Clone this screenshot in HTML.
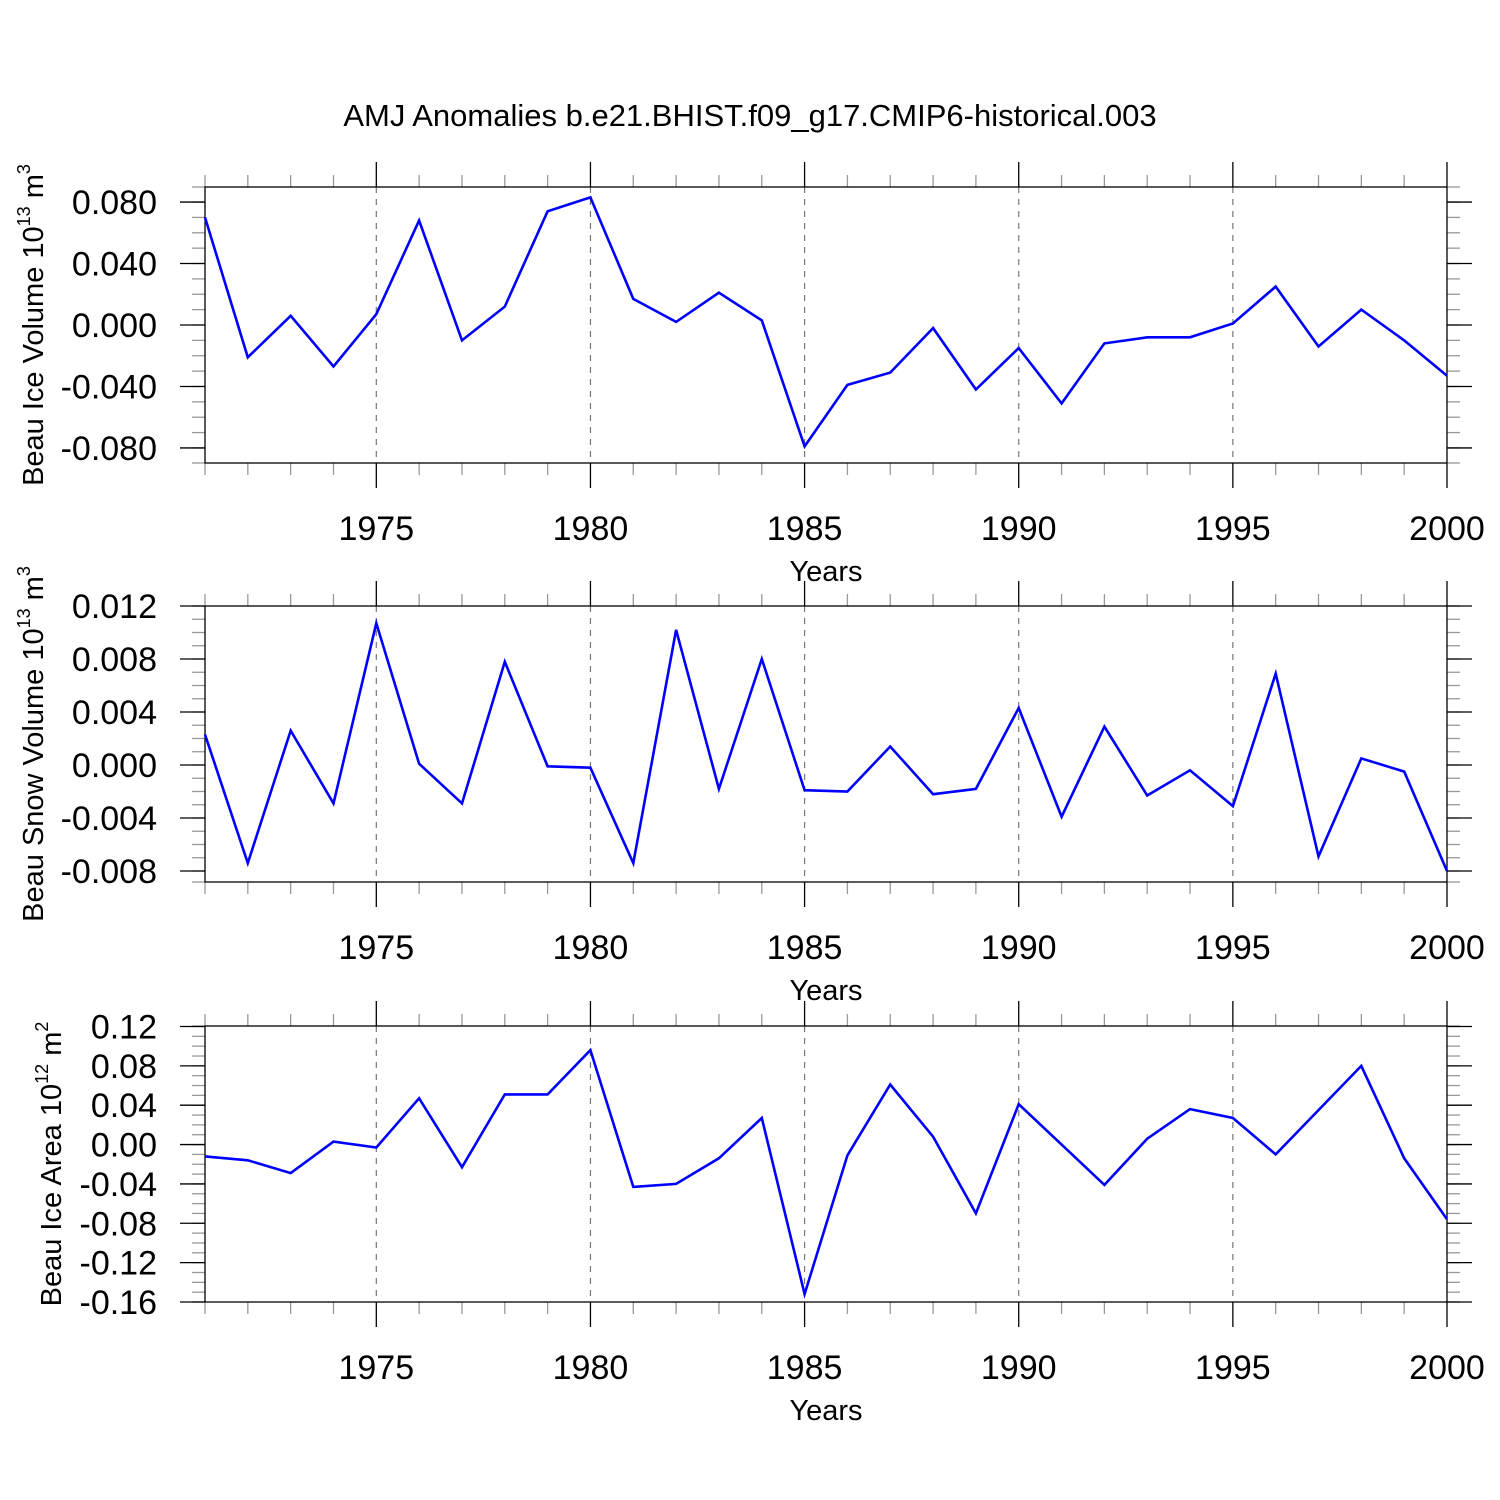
<!DOCTYPE html>
<html><head><meta charset="utf-8"><style>
html,body{margin:0;padding:0;background:#fff;}
svg{display:block;font-family:"Liberation Sans",Arial,sans-serif;}
</style></head><body>
<svg id="chart" width="1500" height="1500" viewBox="0 0 1500 1500" xmlns="http://www.w3.org/2000/svg">
<rect width="1500" height="1500" fill="#fff"/>
<text x="750" y="126" font-size="31" text-anchor="middle">AMJ Anomalies b.e21.BHIST.f09_g17.CMIP6-historical.003</text>
</svg>
<script>
const years = [1971,1972,1973,1974,1975,1976,1977,1978,1979,1980,1981,1982,1983,1984,1985,1986,1987,1988,1989,1990,1991,1992,1993,1994,1995,1996,1997,1998,1999,2000];
const iceVolume = [0.070,-0.021,0.006,-0.027,0.007,0.068,-0.010,0.012,0.074,0.083,0.017,0.002,0.021,0.003,-0.079,-0.039,-0.031,-0.002,-0.042,-0.015,-0.051,-0.012,-0.008,-0.008,0.001,0.025,-0.014,0.010,-0.010,-0.033];
const snowVolume = [0.0023,-0.0074,0.0026,-0.0029,0.0107,0.0001,-0.0029,0.0078,-0.0001,-0.0002,-0.0074,0.0102,-0.0018,0.0080,-0.0019,-0.0020,0.0014,-0.0022,-0.0018,0.0043,-0.0039,0.0029,-0.0023,-0.0004,-0.0031,0.0069,-0.0069,0.0005,-0.0005,-0.0080];
const iceArea = [-0.012,-0.016,-0.029,0.003,-0.003,0.047,-0.023,0.051,0.051,0.096,-0.043,-0.040,-0.014,0.027,-0.152,-0.011,0.061,0.008,-0.070,0.041,0.000,-0.041,0.006,0.036,0.027,-0.010,0.035,0.080,-0.014,-0.076];
const xTickYears = [1975,1980,1985,1990,1995,2000];
const iceVolumeTicks = [0.08,0.04,0,-0.04,-0.08];
const iceVolumeLabels = ["0.080","0.040","0.000","-0.040","-0.080"];
const snowVolumeTicks = [0.012,0.008,0.004,0,-0.004,-0.008];
const snowVolumeLabels = ["0.012","0.008","0.004","0.000","-0.004","-0.008"];
const iceAreaTicks = [0.12,0.08,0.04,0,-0.04,-0.08,-0.12,-0.16];
const iceAreaLabels = ["0.12","0.08","0.04","0.00","-0.04","-0.08","-0.12","-0.16"];

const NS="http://www.w3.org/2000/svg";
const svg=document.getElementById('chart');
const X0=205,X1=1447,Y0=1971,Y1=2000;
function xs(v){return X0+(v-Y0)/(Y1-Y0)*(X1-X0);}
function mk(tag,attrs,parent){const e=document.createElementNS(NS,tag);for(const k in attrs)e.setAttribute(k,attrs[k]);(parent||svg).appendChild(e);return e;}

const panels=[
 {name:'ice-volume',top:187,bot:463,ymin:-0.0898,ymax:0.0898,minor:0.01,data:iceVolume,ticks:iceVolumeTicks,labels:iceVolumeLabels,title:'Beau Ice Volume 10',sup:'13',unit:' m',usup:'3',tx:43},
 {name:'snow-volume',top:606,bot:882,ymin:-0.00883,ymax:0.012,minor:0.001,data:snowVolume,ticks:snowVolumeTicks,labels:snowVolumeLabels,title:'Beau Snow Volume 10',sup:'13',unit:' m',usup:'3',tx:43},
 {name:'ice-area',top:1026,bot:1302,ymin:-0.16,ymax:0.1205,minor:0.01,data:iceArea,ticks:iceAreaTicks,labels:iceAreaLabels,title:'Beau Ice Area 10',sup:'12',unit:' m',usup:'2',tx:61}
];

panels.forEach(p=>{
 const g=mk('g',{});
 
 
 const ys=v=>p.bot-(v-p.ymin)/(p.ymax-p.ymin)*(p.bot-p.top);
 xTickYears.forEach(yr=>{ if(yr<Y1){ const l=mk('line',{x1:xs(yr),x2:xs(yr),y1:p.top,y2:p.bot,stroke:'#777','stroke-width':1.2,'stroke-dasharray':'6,6'},g);   }});
 for(let yr=Y0;yr<=Y1;yr++){
  const major=yr%5===0, len=major?25:12, col=major?'#000':'#999';
  mk('line',{x1:xs(yr),x2:xs(yr),y1:p.top,y2:p.top-len,stroke:col,'stroke-width':1.3},g);
  mk('line',{x1:xs(yr),x2:xs(yr),y1:p.bot,y2:p.bot+len,stroke:col,'stroke-width':1.3},g);
 }
 const start=Math.ceil(p.ymin/p.minor-1e-6);
 for(let i=start;i*p.minor<=p.ymax+1e-9;i++){
  const y=ys(i*p.minor);
  mk('line',{x1:X0,x2:X0-13,y1:y,y2:y,stroke:'#999','stroke-width':1.3},g);
  mk('line',{x1:X1,x2:X1+13,y1:y,y2:y,stroke:'#999','stroke-width':1.3},g);
 }
 [p.top,p.bot].forEach(y=>{
  mk('line',{x1:X0,x2:X0-13,y1:y,y2:y,stroke:'#999','stroke-width':1.3},g);
  mk('line',{x1:X1,x2:X1+13,y1:y,y2:y,stroke:'#999','stroke-width':1.3},g);
 });
 p.ticks.forEach((t,i)=>{
  const y=ys(t);
  mk('line',{x1:X0,x2:X0-25,y1:y,y2:y,stroke:'#000','stroke-width':1.3},g);
  mk('line',{x1:X1,x2:X1+25,y1:y,y2:y,stroke:'#000','stroke-width':1.3},g);
  const tx=mk('text',{x:157,y:y+12,'font-size':34,'text-anchor':'end'},g);
  tx.textContent=p.labels[i];
  
  
 });
 const fr=mk('rect',{x:X0,y:p.top,width:X1-X0,height:p.bot-p.top,fill:'none',stroke:'#000','stroke-width':1.3},g);
 
 
 xTickYears.forEach(yr=>{
  const t=mk('text',{x:xs(yr),y:p.bot+77,'font-size':34,'text-anchor':'middle'},g);
  t.textContent=yr;
  
  
 });
 const xt=mk('text',{x:826,y:p.bot+118,'font-size':29,'text-anchor':'middle'},g);
 xt.textContent='Years';
 
 
 const cy=(p.top+p.bot)/2;
 const yt=mk('text',{x:0,y:0,'font-size':29,'text-anchor':'middle',transform:`translate(${p.tx},${cy}) rotate(-90)`},g);
 
 
 const a=document.createElementNS(NS,'tspan');a.textContent=p.title;yt.appendChild(a);
 const b=document.createElementNS(NS,'tspan');b.setAttribute('dy','-13');b.setAttribute('font-size','18');b.textContent=p.sup;yt.appendChild(b);
 const c=document.createElementNS(NS,'tspan');c.setAttribute('dy','13');c.textContent=p.unit;yt.appendChild(c);
 const d=document.createElementNS(NS,'tspan');d.setAttribute('dy','-13');d.setAttribute('font-size','18');d.textContent=p.usup;yt.appendChild(d);
 const pts=p.data.map((v,i)=>xs(years[i]).toFixed(1)+','+ys(v).toFixed(1)).join(' ');
 const pl=mk('polyline',{points:pts,fill:'none',stroke:'#0000ff','stroke-width':2.6,'stroke-linejoin':'miter'},g);
 
 
});
</script>
</body></html>
